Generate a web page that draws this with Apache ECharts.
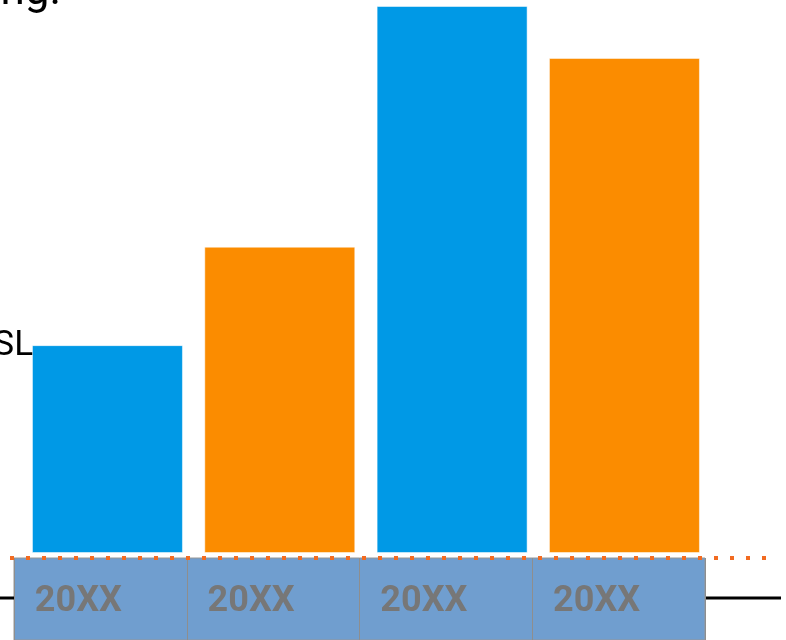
<!DOCTYPE html>
<html><head><meta charset="utf-8">
<script src="https://cdn.jsdelivr.net/npm/echarts@6/dist/echarts.min.js"></script>
<style>html,body{margin:0;padding:0;background:#fff}#c{width:786px;height:640px}</style>
</head><body><div id="c"></div>
<script>
const categories = ['20XX', '20XX', '20XX', '20XX'];
const values = [38, 56, 100, 90.5];
const barColors = ['#0099E6', '#FB8C00', '#0099E6', '#FB8C00'];
const fragmentTop = 'ng.';
const fragmentLeft = 'SL';

const chart = echarts.init(document.getElementById('c'), null, {renderer: 'canvas'});
chart.setOption({
  animation: false,
  grid: [
    {left: 21.3, width: 689.3, top: 6, height: 547},
    {left: 14, width: 691, top: 558, height: 120, show: true, backgroundColor: '#709ECF', borderColor: '#969696', borderWidth: 1}
  ],
  xAxis: [
    {gridIndex: 0, type: 'category', data: categories, show: false},
    {gridIndex: 1, type: 'category', data: categories, position: 'top', z: 5,
     axisLine: {show: false}, axisTick: {show: false},
     splitLine: {show: true, lineStyle: {color: '#8e8e8e', width: 1}},
     axisLabel: {inside: true, margin: 26, formatter: '{a|{value}}',
       rich: {a: {fontFamily: 'Roboto', fontWeight: 'bold', fontSize: 36, color: '#777777', padding: [0, 44, 0, 0]}}}}
  ],
  yAxis: [
    {gridIndex: 0, type: 'value', min: 0, max: 100, show: false},
    {gridIndex: 1, type: 'value', show: false}
  ],
  series: [{
    type: 'bar', xAxisIndex: 0, yAxisIndex: 0, barWidth: 151,
    data: values.map((v, i) => ({value: v, itemStyle: {color: barColors[i], borderColor: 'rgba(255,255,255,0.5)', borderWidth: 1}}))
  }],
  graphic: [
    {type: 'line', z: 0, shape: {x1: 0, y1: 598, x2: 14, y2: 598}, style: {stroke: '#000', lineWidth: 3}},
    {type: 'line', z: 0, shape: {x1: 705, y1: 598, x2: 781, y2: 598}, style: {stroke: '#000', lineWidth: 3}},
    {type: 'line', z: 100, shape: {x1: 8, y1: 558, x2: 770, y2: 558}, style: {stroke: '#F26B21', lineWidth: 4, lineDash: [4, 12], lineDashOffset: -2}},
    {type: 'text', z: 100, x: 61, y: -29, style: {text: fragmentTop, fontFamily: 'Roboto', fontSize: 44, fill: '#000', align: 'right', verticalAlign: 'top'}},
    {type: 'text', z: 100, x: 33, y: 328.5, style: {text: fragmentLeft, fontFamily: 'Roboto', fontSize: 35, fill: '#000', align: 'right', verticalAlign: 'top'}}
  ]
});
</script></body></html>
